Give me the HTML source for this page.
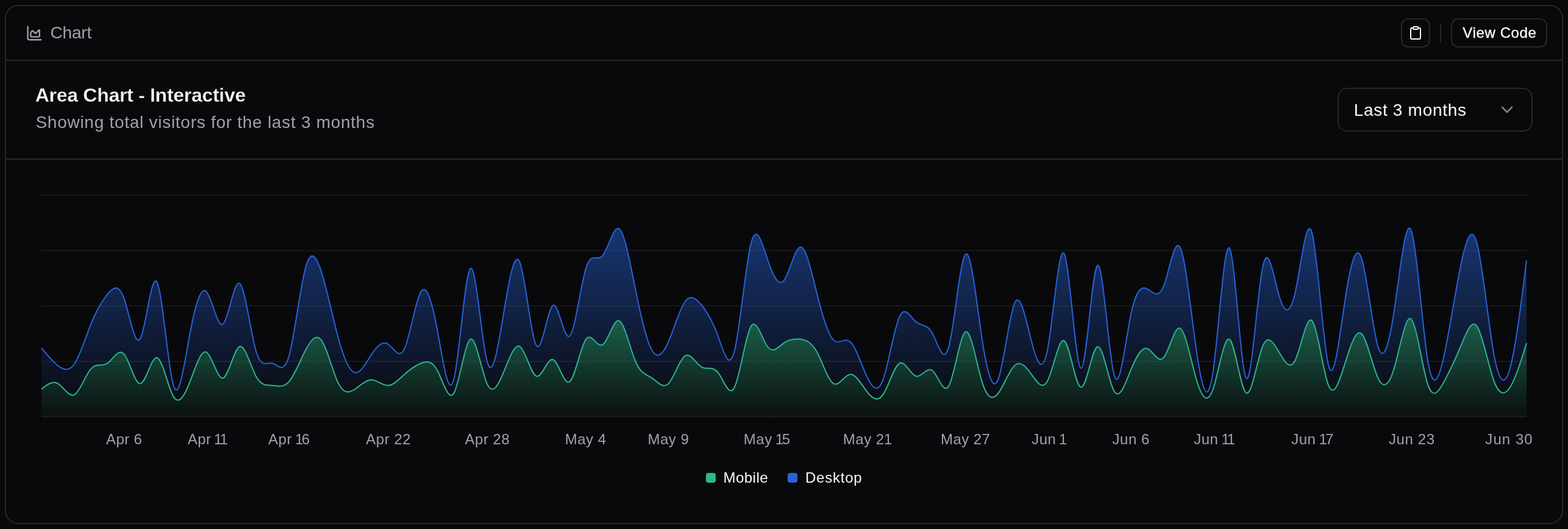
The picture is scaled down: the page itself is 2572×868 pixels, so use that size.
<!DOCTYPE html>
<html lang="en">
<head>
<meta charset="utf-8">
<title>Area Chart - Interactive</title>
<style>
  html, body { margin: 0; padding: 0; }
  body {
    width: 2572px; height: 868px; position: relative;
    background: #09090b; color: #fafafa;
    font-family: "Liberation Sans", sans-serif;
    -webkit-font-smoothing: antialiased;
  }
  h3, p, button { margin: 0; padding: 0; font: inherit; color: inherit; }
  .abs { position: absolute; white-space: nowrap; line-height: 1; font-weight: 400; }
  .muted { color: #a1a1aa; }
  svg { position: absolute; display: block; overflow: visible; }

  /* preview frame */
  .card {
    position: absolute; left: 8px; top: 8px; width: 2552px; height: 848px;
    border: 2px solid #27272a; border-radius: 22px; background: #09090b;
  }
  .toolbar { position: absolute; left: 0; top: 0; width: 2552px; height: 88px; border-bottom: 2px solid #27272a; }
  .header  { position: absolute; left: 0; top: 90px; width: 2552px; height: 160px; border-bottom: 2px solid #27272a; }
  .content { position: absolute; left: 0; top: 252px; width: 2552px; height: 596px; }

  .btn {
    position: absolute; box-sizing: border-box; top: 20px; height: 48px;
    border: 2px solid #27272a; border-radius: 12px; background: #09090b; cursor: pointer;
  }
  .btn-copy { left: 2288px; width: 48px; }
  .btn-code { left: 2370px; width: 158px; }
  .sep { position: absolute; left: 2352px; top: 28px; width: 2px; height: 32px; background: #27272a; }

  .select {
    position: absolute; box-sizing: border-box; left: 2184px; top: 44px; width: 320px; height: 72px;
    border: 2px solid #27272a; border-radius: 16px; background: #09090b; cursor: pointer;
  }

  .tick { font-family: "Liberation Sans", sans-serif; font-size: 24px; fill: #a1a1aa; }
  .legend { position: absolute; left: 0; top: 492px; width: 2552px; height: 56px; }
  .swatch { position: absolute; width: 16px; height: 16px; border-radius: 4px; top: 22px; }
  .swatch.mobile  { left: 1148px; background: #2eb88a; }
  .swatch.desktop { left: 1282px; background: #2662d9; }
</style>
</head>
<body>
<main class="card">

  <div class="toolbar">
    <svg class="icon-chart" style="left:31.9px;top:30px" width="28.8" height="28.8" viewBox="0 0 24 24" fill="none" stroke="#a1a1aa" stroke-width="2" stroke-linecap="round" stroke-linejoin="round">
      <path d="M3 3v16a2 2 0 0 0 2 2h16"/>
      <path d="M7 11.207a.5.5 0 0 1 .146-.353l2-2a.5.5 0 0 1 .708 0l3.292 3.292a.5.5 0 0 0 .708 0l4.292-4.292a.5.5 0 0 1 .854.353V16a1 1 0 0 1-1 1H8a1 1 0 0 1-1-1z"/>
    </svg>
    <span id="t-chart" class="abs muted" style="left:72.59px;top:30px;font-size:28px;letter-spacing:-0.223px;">Chart</span>

    <button type="button" class="btn btn-copy" aria-label="Copy code" title="Copy code">
      <svg class="icon-clip" style="left:10px;top:10px" width="24" height="24" viewBox="0 0 24 24" fill="none" stroke="#fafafa" stroke-width="2" stroke-linecap="round" stroke-linejoin="round">
        <rect width="8" height="4" x="8" y="2" rx="1" ry="1"/>
        <path d="M16 4h2a2 2 0 0 1 2 2v14a2 2 0 0 1-2 2H6a2 2 0 0 1-2-2V6a2 2 0 0 1 2-2h2"/>
      </svg>
    </button>
    <div class="sep"></div>
    <button type="button" class="btn btn-code"><span id="t-view" class="abs" style="left:17.36px;top:10px;font-size:24px;letter-spacing:0.610px;-webkit-text-stroke:0.35px #fafafa;">View Code</span></button>
  </div>

  <div class="header">
    <h3 id="t-title" class="abs" style="font-weight:700;left:47.71px;top:40px;font-size:32px;letter-spacing:-0.287px;-webkit-text-stroke:0.3px #09090b;">Area Chart - Interactive</h3>
    <p id="t-desc" class="abs muted" style="left:48.45px;top:87px;font-size:28px;letter-spacing:0.727px;">Showing total visitors for the last 3 months</p>

    <button type="button" class="select" role="combobox" aria-label="Select a value">
      <span id="t-select" class="abs" style="left:24.70px;top:21px;font-size:28px;letter-spacing:0.696px;">Last 3 months</span>
      <svg class="icon-chev" style="left:260px;top:18px" width="32" height="32" viewBox="0 0 24 24" fill="none" stroke="#fafafa" stroke-opacity="0.5" stroke-width="2" stroke-linecap="round" stroke-linejoin="round">
        <path d="m6 9 6 6 6-6"/>
      </svg>
    </button>
  </div>

  <div class="content">
    <svg id="chart" style="left:48px;top:48px" width="2456" height="500" viewBox="58 310 2456 500">
      <defs>
        <linearGradient id="fillDesktop" x1="0" y1="0" x2="0" y2="1">
          <stop offset="5%" stop-color="#2662d9" stop-opacity="0.8"/>
          <stop offset="95%" stop-color="#2662d9" stop-opacity="0.1"/>
        </linearGradient>
        <linearGradient id="fillMobile" x1="0" y1="0" x2="0" y2="1">
          <stop offset="5%" stop-color="#2eb88a" stop-opacity="0.8"/>
          <stop offset="95%" stop-color="#2eb88a" stop-opacity="0.1"/>
        </linearGradient>
      </defs>
      <g stroke="#27272a" stroke-opacity="0.5" stroke-width="2" fill="none">
        <line x1="68" y1="684" x2="2504" y2="684"/>
        <line x1="68" y1="593" x2="2504" y2="593"/>
        <line x1="68" y1="502" x2="2504" y2="502"/>
        <line x1="68" y1="411" x2="2504" y2="411"/>
        <line x1="68" y1="320" x2="2504" y2="320"/>
      </g>
      <g>
        <path fill="url(#fillMobile)" fill-opacity="0.6" stroke="none" d="M68,638.5C77.02,631.31,86.04,624.11,95.07,629.4C104.09,634.69,113.11,652.45,122.13,647.6C131.16,642.75,140.18,615.29,149.2,605.13C158.22,594.98,167.24,602.12,176.27,596.03C185.29,589.95,194.31,570.62,203.33,580.87C212.36,591.11,221.38,630.92,230.4,629.4C239.42,627.88,248.44,585.04,257.47,586.93C266.49,588.82,275.51,635.44,284.53,650.63C293.56,665.82,302.58,649.59,311.6,626.37C320.62,603.15,329.64,572.94,338.67,577.83C347.69,582.72,356.71,622.7,365.73,620.3C374.76,617.9,383.78,573.11,392.8,568.73C401.82,564.36,410.84,600.4,419.87,617.27C428.89,634.13,437.91,631.83,446.93,632.43C455.96,633.04,464.98,636.54,474,626.37C483.02,616.19,492.04,592.33,501.07,574.8C510.09,557.27,519.11,546.05,528.13,559.63C537.16,573.21,546.18,611.58,555.2,629.4C564.22,647.22,573.24,644.48,582.27,638.5C591.29,632.52,600.31,623.29,609.33,623.33C618.36,623.38,627.38,632.7,636.4,632.43C645.42,632.17,654.44,622.33,663.47,614.23C672.49,606.14,681.51,599.79,690.53,596.03C699.56,592.28,708.58,591.11,717.6,608.17C726.62,625.22,735.64,660.5,744.67,644.57C753.69,628.63,762.71,561.49,771.73,556.6C780.76,551.71,789.78,609.08,798.8,629.4C807.82,649.72,816.84,633,825.87,611.2C834.89,589.4,843.91,562.52,852.93,568.73C861.96,574.95,870.98,614.27,880,617.27C889.02,620.26,898.04,586.94,907.07,589.97C916.09,592.99,925.11,632.37,934.13,626.37C943.16,620.36,952.18,568.97,961.2,556.6C970.22,544.23,979.24,570.89,988.27,565.7C997.29,560.51,1006.31,523.47,1015.33,526.27C1024.36,529.07,1033.38,571.71,1042.4,593C1051.42,614.29,1060.44,614.24,1069.47,620.3C1078.49,626.36,1087.51,638.54,1096.53,629.4C1105.56,620.26,1114.58,589.8,1123.6,583.9C1132.62,578,1141.64,596.67,1150.67,602.1C1159.69,607.53,1168.71,599.71,1177.73,611.2C1186.76,622.69,1195.78,653.49,1204.8,635.47C1213.82,617.44,1222.84,550.6,1231.87,535.37C1240.89,520.13,1249.91,556.5,1258.93,568.73C1267.96,580.97,1276.98,569.07,1286,562.67C1295.02,556.26,1304.04,555.35,1313.07,556.6C1322.09,557.85,1331.11,561.26,1340.13,577.83C1349.16,594.4,1358.18,624.12,1367.2,629.4C1376.22,634.68,1385.24,615.5,1394.27,614.23C1403.29,612.96,1412.31,629.59,1421.33,641.53C1430.36,653.48,1439.38,660.73,1448.4,647.6C1457.42,634.47,1466.44,600.94,1475.47,596.03C1484.49,591.13,1493.51,614.84,1502.53,617.27C1511.56,619.69,1520.58,600.83,1529.6,608.17C1538.62,615.5,1547.64,649.02,1556.67,632.43C1565.69,615.85,1574.71,549.15,1583.73,544.47C1592.76,539.78,1601.78,597.12,1610.8,626.37C1619.82,655.62,1628.84,656.78,1637.87,644.57C1646.89,632.35,1655.91,606.76,1664.93,599.07C1673.96,591.37,1682.98,601.58,1692,614.23C1701.02,626.89,1710.04,642,1719.07,623.33C1728.09,604.66,1737.11,552.21,1746.13,559.63C1755.16,567.06,1764.18,634.35,1773.2,635.47C1782.22,636.58,1791.24,571.52,1800.27,568.73C1809.29,565.95,1818.31,625.44,1827.33,641.53C1836.36,657.62,1845.38,630.31,1854.4,608.17C1863.42,586.02,1872.44,569.03,1881.47,571.77C1890.49,574.5,1899.51,596.95,1908.53,586.93C1917.56,576.91,1926.58,534.42,1935.6,538.4C1944.62,542.38,1953.64,592.84,1962.67,623.33C1971.69,653.83,1980.71,664.36,1989.73,638.5C1998.76,612.64,2007.78,550.39,2016.8,556.6C2025.82,562.81,2034.84,637.49,2043.87,644.57C2052.89,651.64,2061.91,591.12,2070.93,568.73C2079.96,546.35,2088.98,562.1,2098,577.83C2107.02,593.56,2116.04,609.26,2125.07,589.97C2134.09,570.67,2143.11,516.37,2152.13,526.27C2161.16,536.16,2170.18,610.24,2179.2,632.43C2188.22,654.63,2197.24,624.93,2206.27,596.03C2215.29,567.13,2224.31,539.03,2233.33,547.5C2242.36,555.97,2251.38,601.03,2260.4,620.3C2269.42,639.57,2278.44,633.07,2287.47,602.1C2296.49,571.13,2305.51,515.69,2314.53,523.23C2323.56,530.78,2332.58,601.32,2341.6,629.4C2350.62,657.48,2359.64,643.12,2368.67,626.37C2377.69,609.62,2386.71,590.48,2395.73,568.73C2404.76,546.99,2413.78,522.63,2422.8,535.37C2431.82,548.11,2440.84,597.95,2449.87,623.33C2458.89,648.72,2467.91,649.65,2476.93,635.47C2485.96,621.28,2494.98,591.97,2504,562.67L2504,684L68,684Z"/>
        <path fill="none" stroke="#2eb88a" stroke-width="2" d="M68,638.5C77.02,631.31,86.04,624.11,95.07,629.4C104.09,634.69,113.11,652.45,122.13,647.6C131.16,642.75,140.18,615.29,149.2,605.13C158.22,594.98,167.24,602.12,176.27,596.03C185.29,589.95,194.31,570.62,203.33,580.87C212.36,591.11,221.38,630.92,230.4,629.4C239.42,627.88,248.44,585.04,257.47,586.93C266.49,588.82,275.51,635.44,284.53,650.63C293.56,665.82,302.58,649.59,311.6,626.37C320.62,603.15,329.64,572.94,338.67,577.83C347.69,582.72,356.71,622.7,365.73,620.3C374.76,617.9,383.78,573.11,392.8,568.73C401.82,564.36,410.84,600.4,419.87,617.27C428.89,634.13,437.91,631.83,446.93,632.43C455.96,633.04,464.98,636.54,474,626.37C483.02,616.19,492.04,592.33,501.07,574.8C510.09,557.27,519.11,546.05,528.13,559.63C537.16,573.21,546.18,611.58,555.2,629.4C564.22,647.22,573.24,644.48,582.27,638.5C591.29,632.52,600.31,623.29,609.33,623.33C618.36,623.38,627.38,632.7,636.4,632.43C645.42,632.17,654.44,622.33,663.47,614.23C672.49,606.14,681.51,599.79,690.53,596.03C699.56,592.28,708.58,591.11,717.6,608.17C726.62,625.22,735.64,660.5,744.67,644.57C753.69,628.63,762.71,561.49,771.73,556.6C780.76,551.71,789.78,609.08,798.8,629.4C807.82,649.72,816.84,633,825.87,611.2C834.89,589.4,843.91,562.52,852.93,568.73C861.96,574.95,870.98,614.27,880,617.27C889.02,620.26,898.04,586.94,907.07,589.97C916.09,592.99,925.11,632.37,934.13,626.37C943.16,620.36,952.18,568.97,961.2,556.6C970.22,544.23,979.24,570.89,988.27,565.7C997.29,560.51,1006.31,523.47,1015.33,526.27C1024.36,529.07,1033.38,571.71,1042.4,593C1051.42,614.29,1060.44,614.24,1069.47,620.3C1078.49,626.36,1087.51,638.54,1096.53,629.4C1105.56,620.26,1114.58,589.8,1123.6,583.9C1132.62,578,1141.64,596.67,1150.67,602.1C1159.69,607.53,1168.71,599.71,1177.73,611.2C1186.76,622.69,1195.78,653.49,1204.8,635.47C1213.82,617.44,1222.84,550.6,1231.87,535.37C1240.89,520.13,1249.91,556.5,1258.93,568.73C1267.96,580.97,1276.98,569.07,1286,562.67C1295.02,556.26,1304.04,555.35,1313.07,556.6C1322.09,557.85,1331.11,561.26,1340.13,577.83C1349.16,594.4,1358.18,624.12,1367.2,629.4C1376.22,634.68,1385.24,615.5,1394.27,614.23C1403.29,612.96,1412.31,629.59,1421.33,641.53C1430.36,653.48,1439.38,660.73,1448.4,647.6C1457.42,634.47,1466.44,600.94,1475.47,596.03C1484.49,591.13,1493.51,614.84,1502.53,617.27C1511.56,619.69,1520.58,600.83,1529.6,608.17C1538.62,615.5,1547.64,649.02,1556.67,632.43C1565.69,615.85,1574.71,549.15,1583.73,544.47C1592.76,539.78,1601.78,597.12,1610.8,626.37C1619.82,655.62,1628.84,656.78,1637.87,644.57C1646.89,632.35,1655.91,606.76,1664.93,599.07C1673.96,591.37,1682.98,601.58,1692,614.23C1701.02,626.89,1710.04,642,1719.07,623.33C1728.09,604.66,1737.11,552.21,1746.13,559.63C1755.16,567.06,1764.18,634.35,1773.2,635.47C1782.22,636.58,1791.24,571.52,1800.27,568.73C1809.29,565.95,1818.31,625.44,1827.33,641.53C1836.36,657.62,1845.38,630.31,1854.4,608.17C1863.42,586.02,1872.44,569.03,1881.47,571.77C1890.49,574.5,1899.51,596.95,1908.53,586.93C1917.56,576.91,1926.58,534.42,1935.6,538.4C1944.62,542.38,1953.64,592.84,1962.67,623.33C1971.69,653.83,1980.71,664.36,1989.73,638.5C1998.76,612.64,2007.78,550.39,2016.8,556.6C2025.82,562.81,2034.84,637.49,2043.87,644.57C2052.89,651.64,2061.91,591.12,2070.93,568.73C2079.96,546.35,2088.98,562.1,2098,577.83C2107.02,593.56,2116.04,609.26,2125.07,589.97C2134.09,570.67,2143.11,516.37,2152.13,526.27C2161.16,536.16,2170.18,610.24,2179.2,632.43C2188.22,654.63,2197.24,624.93,2206.27,596.03C2215.29,567.13,2224.31,539.03,2233.33,547.5C2242.36,555.97,2251.38,601.03,2260.4,620.3C2269.42,639.57,2278.44,633.07,2287.47,602.1C2296.49,571.13,2305.51,515.69,2314.53,523.23C2323.56,530.78,2332.58,601.32,2341.6,629.4C2350.62,657.48,2359.64,643.12,2368.67,626.37C2377.69,609.62,2386.71,590.48,2395.73,568.73C2404.76,546.99,2413.78,522.63,2422.8,535.37C2431.82,548.11,2440.84,597.95,2449.87,623.33C2458.89,648.72,2467.91,649.65,2476.93,635.47C2485.96,621.28,2494.98,591.97,2504,562.67"/>
      </g>
      <g>
        <path fill="url(#fillDesktop)" fill-opacity="0.6" stroke="none" d="M68,571.16C77.02,582.06,86.04,592.95,95.07,599.98C104.09,607,113.11,610.16,122.13,596.94C131.16,583.73,140.18,554.13,149.2,531.73C158.22,509.32,167.24,494.11,176.27,482.89C185.29,471.67,194.31,464.45,203.33,489.56C212.36,514.68,221.38,572.14,230.4,555.08C239.42,538.03,248.44,446.45,257.47,462.87C266.49,479.29,275.51,603.69,284.53,632.74C293.56,661.79,302.58,595.48,311.6,547.2C320.62,498.91,329.64,468.65,338.67,478.64C347.69,488.64,356.71,538.9,365.73,531.73C374.76,524.55,383.78,459.93,392.8,464.99C401.82,470.05,410.84,544.8,419.87,575.71C428.89,606.62,437.91,593.71,446.93,596.03C455.96,598.35,464.98,615.9,474,584.51C483.02,553.11,492.04,472.77,501.07,439.51C510.09,406.25,519.11,420.07,528.13,449.22C537.16,478.37,546.18,522.84,555.2,555.69C564.22,588.54,573.24,609.78,582.27,611.5C591.29,613.23,600.31,595.43,609.33,581.78C618.36,568.12,627.38,558.61,636.4,564.49C645.42,570.37,654.44,591.64,663.47,572.37C672.49,553.11,681.51,493.3,690.53,478.64C699.56,463.99,708.58,494.49,717.6,542.95C726.62,591.41,735.64,657.84,744.67,621.82C753.69,585.8,762.71,447.33,771.73,440.42C780.76,433.52,789.78,558.18,798.8,592.39C807.82,626.61,816.84,570.37,825.87,515.65C834.89,460.93,843.91,407.72,852.93,431.02C861.96,454.32,870.98,554.15,880,567.22C889.02,580.29,898.04,506.61,907.07,501.09C916.09,495.57,925.11,558.22,934.13,551.44C943.16,544.66,952.18,468.46,961.2,439.82C970.22,411.18,979.24,430.1,988.27,419.8C997.29,409.49,1006.31,369.97,1015.33,375.21C1024.36,380.45,1033.38,430.46,1042.4,475.31C1051.42,520.15,1060.44,559.83,1069.47,575.1C1078.49,590.37,1087.51,581.23,1096.53,560.54C1105.56,539.86,1114.58,507.63,1123.6,495.02C1132.62,482.42,1141.64,489.45,1150.67,500.48C1159.69,511.52,1168.71,526.56,1177.73,551.44C1186.76,576.32,1195.78,611.04,1204.8,575.71C1213.82,540.38,1222.84,434.99,1231.87,399.47C1240.89,363.96,1249.91,398.31,1258.93,425.26C1267.96,452.2,1276.98,471.72,1286,460.14C1295.02,448.56,1304.04,405.86,1313.07,405.24C1322.09,404.61,1331.11,446.07,1340.13,482.28C1349.16,518.5,1358.18,549.49,1367.2,558.12C1376.22,566.75,1385.24,553.02,1394.27,560.54C1403.29,568.07,1412.31,596.84,1421.33,616.66C1430.36,636.48,1439.38,647.36,1448.4,623.03C1457.42,598.7,1466.44,539.16,1475.47,519.59C1484.49,500.03,1493.51,520.45,1502.53,528.09C1511.56,535.73,1520.58,530.59,1529.6,547.2C1538.62,563.81,1547.64,602.17,1556.67,567.82C1565.69,533.48,1574.71,426.43,1583.73,417.07C1592.76,407.7,1601.78,496.03,1610.8,555.69C1619.82,615.35,1628.84,646.36,1637.87,620.91C1646.89,595.45,1655.91,513.54,1664.93,495.93C1673.96,478.33,1682.98,525.03,1692,560.24C1701.02,595.45,1710.04,619.18,1719.07,569.34C1728.09,519.5,1737.11,396.1,1746.13,417.07C1755.16,438.03,1764.18,603.35,1773.2,604.22C1782.22,605.1,1791.24,441.52,1800.27,435.57C1809.29,429.62,1818.31,581.3,1827.33,614.84C1836.36,648.38,1845.38,563.78,1854.4,518.99C1863.42,474.2,1872.44,469.22,1881.47,473.79C1890.49,478.36,1899.51,492.48,1908.53,470.15C1917.56,447.82,1926.58,389.03,1935.6,405.54C1944.62,422.05,1953.64,513.86,1962.67,576.32C1971.69,638.77,1980.71,671.86,1989.73,610.59C1998.76,549.33,2007.78,393.7,2016.8,407.36C2025.82,421.02,2034.84,603.96,2043.87,620C2052.89,636.03,2061.91,485.16,2070.93,439.51C2079.96,393.86,2088.98,453.43,2098,484.71C2107.02,515.99,2116.04,518.99,2125.07,477.43C2134.09,435.87,2143.11,349.74,2152.13,382.18C2161.16,414.63,2170.18,565.66,2179.2,599.98C2188.22,634.3,2197.24,551.91,2206.27,492.6C2215.29,433.29,2224.31,397.06,2233.33,423.74C2242.36,450.42,2251.38,540.01,2260.4,569.04C2269.42,598.07,2278.44,566.53,2287.47,505.94C2296.49,445.35,2305.51,355.7,2314.53,377.63C2323.56,399.56,2332.58,533.08,2341.6,589.36C2350.62,645.64,2359.64,624.7,2368.67,583.6C2377.69,542.5,2386.71,481.24,2395.73,437.09C2404.76,392.94,2413.78,365.89,2422.8,399.47C2431.82,433.05,2440.84,527.26,2449.87,578.14C2458.89,629.02,2467.91,636.57,2476.93,604.22C2485.96,571.88,2494.98,499.63,2504,427.38L2504,562.67C2494.98,591.97,2485.96,621.28,2476.93,635.47C2467.91,649.65,2458.89,648.72,2449.87,623.33C2440.84,597.95,2431.82,548.11,2422.8,535.37C2413.78,522.63,2404.76,546.99,2395.73,568.73C2386.71,590.48,2377.69,609.62,2368.67,626.37C2359.64,643.12,2350.62,657.48,2341.6,629.4C2332.58,601.32,2323.56,530.78,2314.53,523.23C2305.51,515.69,2296.49,571.13,2287.47,602.1C2278.44,633.07,2269.42,639.57,2260.4,620.3C2251.38,601.03,2242.36,555.97,2233.33,547.5C2224.31,539.03,2215.29,567.13,2206.27,596.03C2197.24,624.93,2188.22,654.63,2179.2,632.43C2170.18,610.24,2161.16,536.16,2152.13,526.27C2143.11,516.37,2134.09,570.67,2125.07,589.97C2116.04,609.26,2107.02,593.56,2098,577.83C2088.98,562.1,2079.96,546.35,2070.93,568.73C2061.91,591.12,2052.89,651.64,2043.87,644.57C2034.84,637.49,2025.82,562.81,2016.8,556.6C2007.78,550.39,1998.76,612.64,1989.73,638.5C1980.71,664.36,1971.69,653.83,1962.67,623.33C1953.64,592.84,1944.62,542.38,1935.6,538.4C1926.58,534.42,1917.56,576.91,1908.53,586.93C1899.51,596.95,1890.49,574.5,1881.47,571.77C1872.44,569.03,1863.42,586.02,1854.4,608.17C1845.38,630.31,1836.36,657.62,1827.33,641.53C1818.31,625.44,1809.29,565.95,1800.27,568.73C1791.24,571.52,1782.22,636.58,1773.2,635.47C1764.18,634.35,1755.16,567.06,1746.13,559.63C1737.11,552.21,1728.09,604.66,1719.07,623.33C1710.04,642,1701.02,626.89,1692,614.23C1682.98,601.58,1673.96,591.37,1664.93,599.07C1655.91,606.76,1646.89,632.35,1637.87,644.57C1628.84,656.78,1619.82,655.62,1610.8,626.37C1601.78,597.12,1592.76,539.78,1583.73,544.47C1574.71,549.15,1565.69,615.85,1556.67,632.43C1547.64,649.02,1538.62,615.5,1529.6,608.17C1520.58,600.83,1511.56,619.69,1502.53,617.27C1493.51,614.84,1484.49,591.13,1475.47,596.03C1466.44,600.94,1457.42,634.47,1448.4,647.6C1439.38,660.73,1430.36,653.48,1421.33,641.53C1412.31,629.59,1403.29,612.96,1394.27,614.23C1385.24,615.5,1376.22,634.68,1367.2,629.4C1358.18,624.12,1349.16,594.4,1340.13,577.83C1331.11,561.26,1322.09,557.85,1313.07,556.6C1304.04,555.35,1295.02,556.26,1286,562.67C1276.98,569.07,1267.96,580.97,1258.93,568.73C1249.91,556.5,1240.89,520.13,1231.87,535.37C1222.84,550.6,1213.82,617.44,1204.8,635.47C1195.78,653.49,1186.76,622.69,1177.73,611.2C1168.71,599.71,1159.69,607.53,1150.67,602.1C1141.64,596.67,1132.62,578,1123.6,583.9C1114.58,589.8,1105.56,620.26,1096.53,629.4C1087.51,638.54,1078.49,626.36,1069.47,620.3C1060.44,614.24,1051.42,614.29,1042.4,593C1033.38,571.71,1024.36,529.07,1015.33,526.27C1006.31,523.47,997.29,560.51,988.27,565.7C979.24,570.89,970.22,544.23,961.2,556.6C952.18,568.97,943.16,620.36,934.13,626.37C925.11,632.37,916.09,592.99,907.07,589.97C898.04,586.94,889.02,620.26,880,617.27C870.98,614.27,861.96,574.95,852.93,568.73C843.91,562.52,834.89,589.4,825.87,611.2C816.84,633,807.82,649.72,798.8,629.4C789.78,609.08,780.76,551.71,771.73,556.6C762.71,561.49,753.69,628.63,744.67,644.57C735.64,660.5,726.62,625.22,717.6,608.17C708.58,591.11,699.56,592.28,690.53,596.03C681.51,599.79,672.49,606.14,663.47,614.23C654.44,622.33,645.42,632.17,636.4,632.43C627.38,632.7,618.36,623.38,609.33,623.33C600.31,623.29,591.29,632.52,582.27,638.5C573.24,644.48,564.22,647.22,555.2,629.4C546.18,611.58,537.16,573.21,528.13,559.63C519.11,546.05,510.09,557.27,501.07,574.8C492.04,592.33,483.02,616.19,474,626.37C464.98,636.54,455.96,633.04,446.93,632.43C437.91,631.83,428.89,634.13,419.87,617.27C410.84,600.4,401.82,564.36,392.8,568.73C383.78,573.11,374.76,617.9,365.73,620.3C356.71,622.7,347.69,582.72,338.67,577.83C329.64,572.94,320.62,603.15,311.6,626.37C302.58,649.59,293.56,665.82,284.53,650.63C275.51,635.44,266.49,588.82,257.47,586.93C248.44,585.04,239.42,627.88,230.4,629.4C221.38,630.92,212.36,591.11,203.33,580.87C194.31,570.62,185.29,589.95,176.27,596.03C167.24,602.12,158.22,594.98,149.2,605.13C140.18,615.29,131.16,642.75,122.13,647.6C113.11,652.45,104.09,634.69,95.07,629.4C86.04,624.11,77.02,631.31,68,638.5Z"/>
        <path fill="none" stroke="#2662d9" stroke-width="2" d="M68,571.16C77.02,582.06,86.04,592.95,95.07,599.98C104.09,607,113.11,610.16,122.13,596.94C131.16,583.73,140.18,554.13,149.2,531.73C158.22,509.32,167.24,494.11,176.27,482.89C185.29,471.67,194.31,464.45,203.33,489.56C212.36,514.68,221.38,572.14,230.4,555.08C239.42,538.03,248.44,446.45,257.47,462.87C266.49,479.29,275.51,603.69,284.53,632.74C293.56,661.79,302.58,595.48,311.6,547.2C320.62,498.91,329.64,468.65,338.67,478.64C347.69,488.64,356.71,538.9,365.73,531.73C374.76,524.55,383.78,459.93,392.8,464.99C401.82,470.05,410.84,544.8,419.87,575.71C428.89,606.62,437.91,593.71,446.93,596.03C455.96,598.35,464.98,615.9,474,584.51C483.02,553.11,492.04,472.77,501.07,439.51C510.09,406.25,519.11,420.07,528.13,449.22C537.16,478.37,546.18,522.84,555.2,555.69C564.22,588.54,573.24,609.78,582.27,611.5C591.29,613.23,600.31,595.43,609.33,581.78C618.36,568.12,627.38,558.61,636.4,564.49C645.42,570.37,654.44,591.64,663.47,572.37C672.49,553.11,681.51,493.3,690.53,478.64C699.56,463.99,708.58,494.49,717.6,542.95C726.62,591.41,735.64,657.84,744.67,621.82C753.69,585.8,762.71,447.33,771.73,440.42C780.76,433.52,789.78,558.18,798.8,592.39C807.82,626.61,816.84,570.37,825.87,515.65C834.89,460.93,843.91,407.72,852.93,431.02C861.96,454.32,870.98,554.15,880,567.22C889.02,580.29,898.04,506.61,907.07,501.09C916.09,495.57,925.11,558.22,934.13,551.44C943.16,544.66,952.18,468.46,961.2,439.82C970.22,411.18,979.24,430.1,988.27,419.8C997.29,409.49,1006.31,369.97,1015.33,375.21C1024.36,380.45,1033.38,430.46,1042.4,475.31C1051.42,520.15,1060.44,559.83,1069.47,575.1C1078.49,590.37,1087.51,581.23,1096.53,560.54C1105.56,539.86,1114.58,507.63,1123.6,495.02C1132.62,482.42,1141.64,489.45,1150.67,500.48C1159.69,511.52,1168.71,526.56,1177.73,551.44C1186.76,576.32,1195.78,611.04,1204.8,575.71C1213.82,540.38,1222.84,434.99,1231.87,399.47C1240.89,363.96,1249.91,398.31,1258.93,425.26C1267.96,452.2,1276.98,471.72,1286,460.14C1295.02,448.56,1304.04,405.86,1313.07,405.24C1322.09,404.61,1331.11,446.07,1340.13,482.28C1349.16,518.5,1358.18,549.49,1367.2,558.12C1376.22,566.75,1385.24,553.02,1394.27,560.54C1403.29,568.07,1412.31,596.84,1421.33,616.66C1430.36,636.48,1439.38,647.36,1448.4,623.03C1457.42,598.7,1466.44,539.16,1475.47,519.59C1484.49,500.03,1493.51,520.45,1502.53,528.09C1511.56,535.73,1520.58,530.59,1529.6,547.2C1538.62,563.81,1547.64,602.17,1556.67,567.82C1565.69,533.48,1574.71,426.43,1583.73,417.07C1592.76,407.7,1601.78,496.03,1610.8,555.69C1619.82,615.35,1628.84,646.36,1637.87,620.91C1646.89,595.45,1655.91,513.54,1664.93,495.93C1673.96,478.33,1682.98,525.03,1692,560.24C1701.02,595.45,1710.04,619.18,1719.07,569.34C1728.09,519.5,1737.11,396.1,1746.13,417.07C1755.16,438.03,1764.18,603.35,1773.2,604.22C1782.22,605.1,1791.24,441.52,1800.27,435.57C1809.29,429.62,1818.31,581.3,1827.33,614.84C1836.36,648.38,1845.38,563.78,1854.4,518.99C1863.42,474.2,1872.44,469.22,1881.47,473.79C1890.49,478.36,1899.51,492.48,1908.53,470.15C1917.56,447.82,1926.58,389.03,1935.6,405.54C1944.62,422.05,1953.64,513.86,1962.67,576.32C1971.69,638.77,1980.71,671.86,1989.73,610.59C1998.76,549.33,2007.78,393.7,2016.8,407.36C2025.82,421.02,2034.84,603.96,2043.87,620C2052.89,636.03,2061.91,485.16,2070.93,439.51C2079.96,393.86,2088.98,453.43,2098,484.71C2107.02,515.99,2116.04,518.99,2125.07,477.43C2134.09,435.87,2143.11,349.74,2152.13,382.18C2161.16,414.63,2170.18,565.66,2179.2,599.98C2188.22,634.3,2197.24,551.91,2206.27,492.6C2215.29,433.29,2224.31,397.06,2233.33,423.74C2242.36,450.42,2251.38,540.01,2260.4,569.04C2269.42,598.07,2278.44,566.53,2287.47,505.94C2296.49,445.35,2305.51,355.7,2314.53,377.63C2323.56,399.56,2332.58,533.08,2341.6,589.36C2350.62,645.64,2359.64,624.7,2368.67,583.6C2377.69,542.5,2386.71,481.24,2395.73,437.09C2404.76,392.94,2413.78,365.89,2422.8,399.47C2431.82,433.05,2440.84,527.26,2449.87,578.14C2458.89,629.02,2467.91,636.57,2476.93,604.22C2485.96,571.88,2494.98,499.63,2504,427.38"/>
      </g>
      <g class="tick">
        <text x="174.05" y="729" style="letter-spacing:0.366px">Apr 6</text>
        <text x="307.63" y="729" style="letter-spacing:0.500px">Apr <tspan dx="-2.61" style="letter-spacing:-2.220px">11</tspan></text>
        <text x="440.05" y="729" style="letter-spacing:0.500px">Apr <tspan dx="-2.00" style="letter-spacing:-2.639px">16</tspan></text>
        <text x="600.22" y="729" style="letter-spacing:0.552px">Apr 22</text>
        <text x="762.59" y="729" style="letter-spacing:0.492px">Apr 28</text>
        <text x="926.67" y="729" style="letter-spacing:0.539px">May 4</text>
        <text x="1062.38" y="729" style="letter-spacing:0.535px">May 9</text>
        <text x="1219.84" y="729" style="letter-spacing:0.500px">May <tspan dx="-2.00" style="letter-spacing:-2.318px">15</tspan></text>
        <text x="1382.84" y="729" style="letter-spacing:0.500px">May <tspan style="letter-spacing:-0.151px">21</tspan></text>
        <text x="1543.08" y="729" style="letter-spacing:0.422px">May 27</text>
        <text x="1692.13" y="729" style="letter-spacing:0.500px">Jun <tspan dx="-2.51" style="letter-spacing:0.000px">1</tspan></text>
        <text x="1824.60" y="729" style="letter-spacing:0.488px">Jun 6</text>
        <text x="1958.24" y="729" style="letter-spacing:0.500px">Jun <tspan dx="-2.22" style="letter-spacing:-2.220px">11</tspan></text>
        <text x="2118.15" y="729" style="letter-spacing:0.500px">Jun <tspan dx="-2.00" style="letter-spacing:-2.906px">17</tspan></text>
        <text x="2277.92" y="729" style="letter-spacing:0.650px">Jun 23</text>
        <text x="2436.32" y="729" style="letter-spacing:1.070px">Jun 30</text>
      </g>
    </svg>

    <div class="legend">
      <div class="swatch mobile"></div>
      <span id="t-mobile" class="abs" style="left:1176.50px;top:18px;font-size:24px;letter-spacing:0.479px;">Mobile</span>
      <div class="swatch desktop"></div>
      <span id="t-desktop" class="abs" style="left:1310.88px;top:18px;font-size:24px;letter-spacing:0.788px;">Desktop</span>
    </div>
  </div>

</main>
</body>
</html>
